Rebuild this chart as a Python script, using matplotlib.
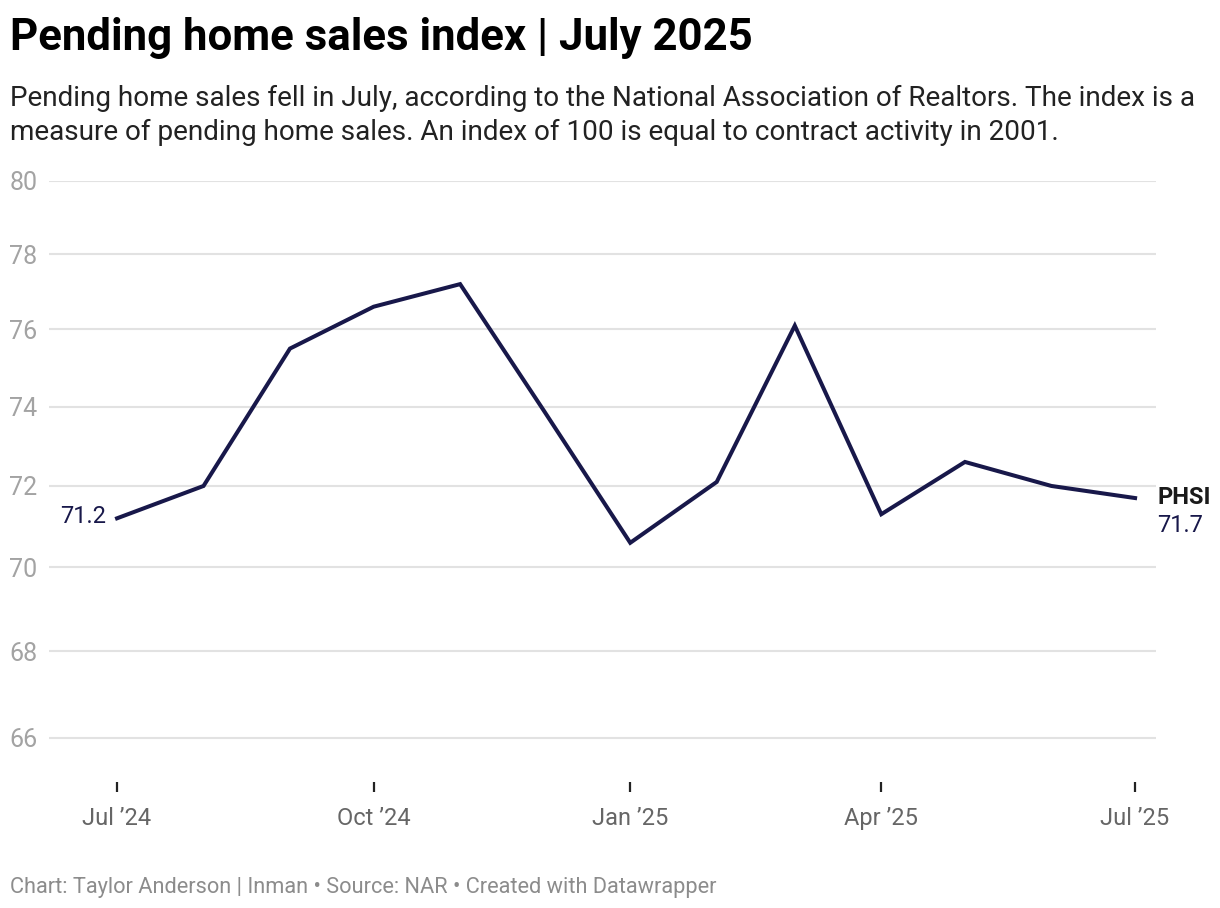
import matplotlib
matplotlib.use("Agg")
import matplotlib.pyplot as plt
from matplotlib.ticker import FixedLocator, NullLocator
import matplotlib.transforms as mtransforms
import matplotlib.dates as mdates
import numpy as np

plt.rcParams['font.family'] = ['Roboto', 'DejaVu Sans']

months = ["2024-07-01", "2024-08-01", "2024-09-01", "2024-10-01", "2024-11-01", "2024-12-01",
          "2025-01-01", "2025-02-01", "2025-03-01", "2025-04-01", "2025-05-01", "2025-06-01",
          "2025-07-01"]
phsi = [71.2, 72.0, 75.5, 76.6, 77.2, 73.9, 70.6, 72.1, 76.1, 71.3, 72.6, 72.0, 71.7]
x_tick_dates = ["2024-07-01", "2024-10-01", "2025-01-01", "2025-04-01", "2025-07-01"]
x_tick_labels = ["Jul \u201924", "Oct \u201924", "Jan \u201925", "Apr \u201925", "Jul \u201925"]
y_ticks = [66, 68, 70, 72, 74, 76, 78, 80]

title = "Pending home sales index | July 2025"
subtitle1 = "Pending home sales fell in July, according to the National Association of Realtors. The index is a"
subtitle2 = "measure of pending home sales. An index of 100 is equal to contract activity in 2001."
footer = "Chart: Taylor Anderson | Inman \u2022 Source: NAR \u2022 Created with Datawrapper"
series_name = "PHSI"

W, H = 1220, 908
fig = plt.figure(figsize=(W / 100, H / 100), dpi=100)
fig.patch.set_facecolor('white')

left, right, top, bottom = 49, 1156, 181, 782
ax = fig.add_axes([left / W, 1 - bottom / H, (right - left) / W, (bottom - top) / H])

line_color = '#18184a'
xs = mdates.date2num(np.array(months, dtype='datetime64[D]'))
xt = mdates.date2num(np.array(x_tick_dates, dtype='datetime64[D]'))
ax.plot(xs, phsi, color=line_color, lw=2.9, solid_joinstyle='miter', zorder=3)

ax.set_yscale('log')
ax.set_ylim(65, 80)
ax.set_xlim(xs[0] - 24.4, xs[-1] + 7.5)

ax.yaxis.set_major_locator(FixedLocator(y_ticks))
ax.yaxis.set_minor_locator(NullLocator())
ax.set_yticklabels([str(v) for v in y_ticks])
ax.grid(axis='y', color='#e2e2e2', lw=1.5, zorder=0)
ax.tick_params(axis='y', length=0, pad=28.5, labelsize=18, labelcolor='#a3a3a3')
for lbl in ax.get_yticklabels():
    lbl.set_horizontalalignment('left')

ax.xaxis.set_major_locator(FixedLocator(xt))
ax.xaxis.set_minor_locator(NullLocator())
ax.set_xticklabels(x_tick_labels)
ax.tick_params(axis='x', length=7, width=1.6, color='#222222', pad=11,
               labelsize=17, labelcolor='#666666', direction='out')

for s in ax.spines.values():
    s.set_visible(False)

# point labels
off_l = mtransforms.offset_copy(ax.transData, fig=fig, x=-11, y=2, units='dots')
ax.text(xs[0], phsi[0], f"{phsi[0]:.1f}", transform=off_l, ha='right', va='center',
        fontsize=17, color=line_color)
off_r1 = mtransforms.offset_copy(ax.transData, fig=fig, x=22, y=1, units='dots')
ax.text(xs[-1], phsi[-1], series_name, transform=off_r1, ha='left', va='center',
        fontsize=17, fontweight='bold', color='#1a1a1a', clip_on=False)
off_r2 = mtransforms.offset_copy(ax.transData, fig=fig, x=22, y=-27, units='dots')
ax.text(xs[-1], phsi[-1], f"{phsi[-1]:.1f}", transform=off_r2, ha='left', va='center',
        fontsize=17, color=line_color, clip_on=False)

# header / footer
def ftext(x, y, s, **kw):
    fig.text(x / W, 1 - y / H, s, va='baseline', ha='left', **kw)

ftext(10, 50, title, fontsize=31.5, fontweight='bold', color='#000000')
ftext(10, 106, subtitle1, fontsize=20.1, color='#222222')
ftext(10, 140, subtitle2, fontsize=20.1, color='#222222')
ftext(10, 893, footer, fontsize=15.7, color='#8c8c8c')

fig.savefig('out.png', dpi=100, facecolor='white')
